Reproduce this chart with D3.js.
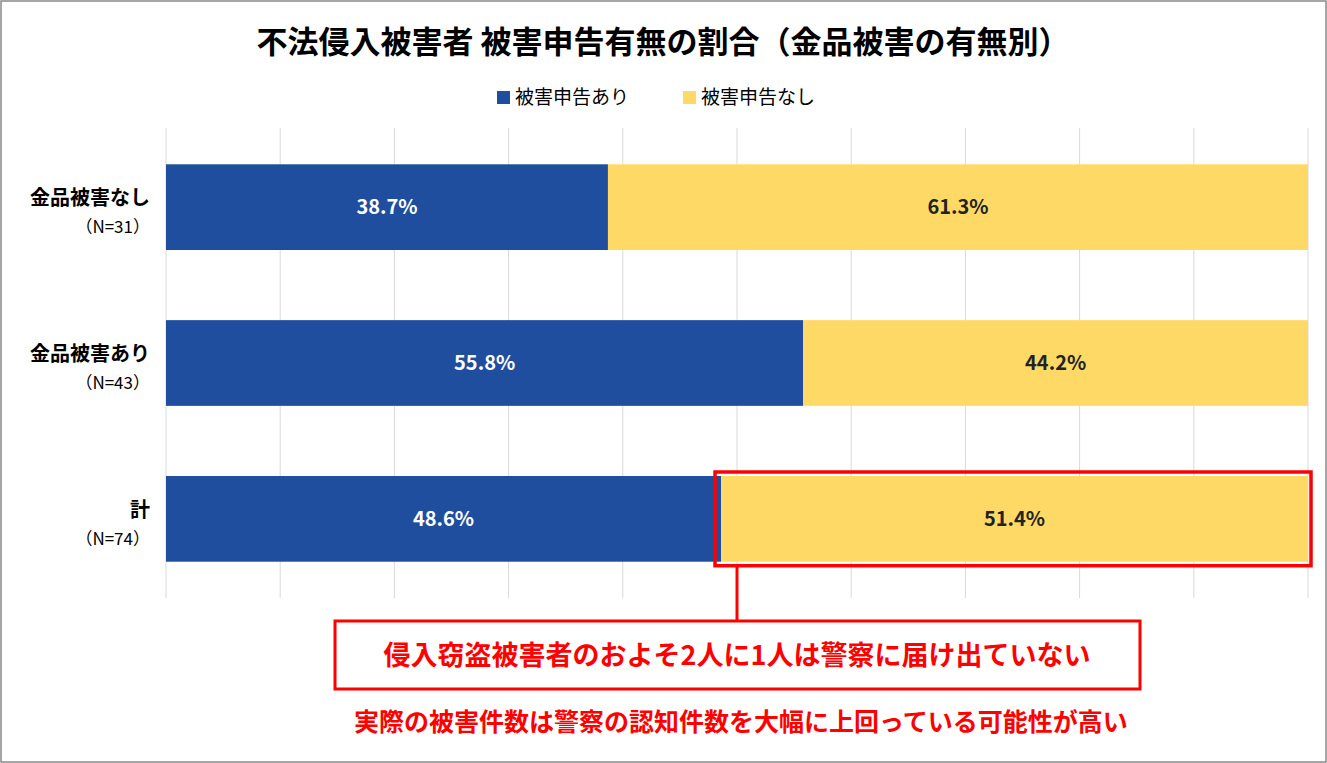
<!DOCTYPE html><html><head><meta charset="utf-8">
<script src="https://cdn.jsdelivr.net/npm/d3@7"></script>
<style>body{margin:0;background:#fff}svg{font-family:"Noto Sans CJK JP","Noto Sans",sans-serif}</style></head><body>
<svg id="c" width="1327" height="763"></svg>
<script>
const categories=["金品被害なし","金品被害あり","計"];
const nLabels=["（N=31）","（N=43）","（N=74）"];
const yesVals=[38.7,55.8,48.6];
const noVals=[61.3,44.2,51.4];
const ticks=[0,10,20,30,40,50,60,70,80,90,100];
const svg=d3.select("#c");
svg.append("rect").attr("x",1).attr("y",1).attr("width",1325).attr("height",761).attr("fill","#fff").attr("stroke","#888").attr("stroke-width",1.5);
const x=d3.scaleLinear().domain([0,100]).range([166,1308]);
const y=d3.scaleBand().domain(categories).range([130,596]).paddingInner(0.45).paddingOuter(0.22);
svg.append("g").selectAll("line").data(ticks).join("line").attr("x1",d=>x(d)).attr("x2",d=>x(d)).attr("y1",128).attr("y2",598).attr("stroke","#d9d9d9").attr("stroke-width",1);
svg.append("text").attr("x",663).attr("y",53).attr("text-anchor","middle").attr("font-size",31).attr("font-weight","bold").text("不法侵入被害者 被害申告有無の割合（金品被害の有無別）");
// legend
svg.append("rect").attr("x",497).attr("y",91).attr("width",13).attr("height",13).attr("fill","#1f4e9f");
svg.append("text").attr("x",515).attr("y",104).attr("font-size",19).text("被害申告あり");
svg.append("rect").attr("x",683).attr("y",91).attr("width",13).attr("height",13).attr("fill","#ffd966");
svg.append("text").attr("x",701).attr("y",104).attr("font-size",19).text("被害申告なし");
const g=svg.append("g");
categories.forEach((c,i)=>{
  const y0=y(c),h=y.bandwidth();
  g.append("rect").attr("x",x(0)).attr("y",y0).attr("width",x(yesVals[i])-x(0)).attr("height",h).attr("fill","#1f4e9f");
  g.append("rect").attr("x",x(yesVals[i])).attr("y",y0).attr("width",x(100)-x(yesVals[i])).attr("height",h).attr("fill","#ffd966");
  g.append("text").attr("x",x(yesVals[i]/2)).attr("y",y0+h/2+7).attr("text-anchor","middle").attr("font-size",20).attr("font-weight","bold").attr("fill","#fff").text(yesVals[i].toFixed(1)+"%");
  g.append("text").attr("x",x(yesVals[i]+noVals[i]/2)).attr("y",y0+h/2+7).attr("text-anchor","middle").attr("font-size",20).attr("font-weight","bold").attr("fill","#222").text(noVals[i].toFixed(1)+"%");
  g.append("text").attr("x",150).attr("y",y0+h/2-2).attr("text-anchor","end").attr("font-size",20).attr("font-weight","bold").text(c);
  g.append("text").attr("x",150).attr("y",y0+h/2+26).attr("text-anchor","end").attr("font-size",17).text(nLabels[i]);
});
const t=categories[2],ty=y(t);
svg.append("rect").attr("x",x(yesVals[2])-6).attr("y",ty-4).attr("width",x(100)+3-(x(yesVals[2])-6)).attr("height",y.bandwidth()+8).attr("fill","none").attr("stroke","#ff0000").attr("stroke-width",3.5);
svg.append("line").attr("x1",737).attr("x2",737).attr("y1",ty+y.bandwidth()+4).attr("y2",621).attr("stroke","#ff0000").attr("stroke-width",3);
svg.append("rect").attr("x",335).attr("y",621).attr("width",805).attr("height",68).attr("fill","#fff").attr("stroke","#ff0000").attr("stroke-width",3);
svg.append("text").attr("x",737).attr("y",665).attr("text-anchor","middle").attr("font-size",27).attr("font-weight","bold").attr("fill","#ff0000").text("侵入窃盗被害者のおよそ2人に1人は警察に届け出ていない");
svg.append("text").attr("x",741).attr("y",731).attr("text-anchor","middle").attr("font-size",25).attr("font-weight","bold").attr("fill","#ff0000").text("実際の被害件数は警察の認知件数を大幅に上回っている可能性が高い");
</script></body></html>
